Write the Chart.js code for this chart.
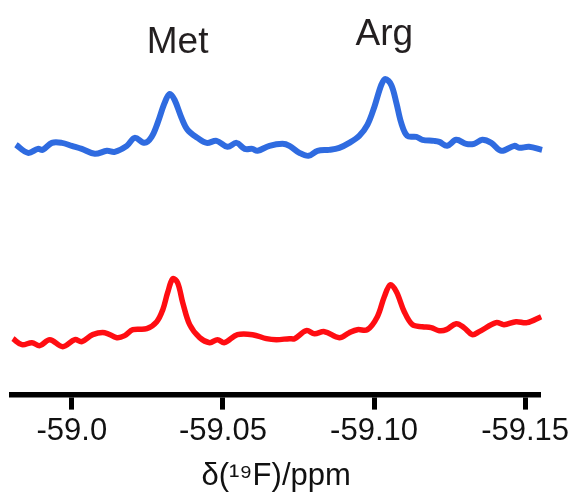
<!DOCTYPE html>
<html lang="en">
  <head>
    <meta charset="UTF-8" />
    <title>19F NMR</title>
    <script src="https://cdn.jsdelivr.net/npm/chart.js@4.4.1/dist/chart.umd.min.js"></script>
    <style>
      body { margin: 0; background: #fff; }
      #wrap { width: 573px; height: 496px; position: relative; }
    </style>
  </head>
  <body>
    <div id="wrap">
      <canvas id="chart-nmr"></canvas>
    </div>

<script>
  // chemical shift (ppm) and intensity (arbitrary units)
  const blueShift = [
    -58.9815, -58.9855, -58.9888, -58.9904, -58.9934, -58.9967, -59.0000, -59.0033,
    -59.0076, -59.0116, -59.0142, -59.0182, -59.0208, -59.0241, -59.0264, -59.0284,
    -59.0307, -59.0324, -59.0340, -59.0363, -59.0383, -59.0416, -59.0446, -59.0479,
    -59.0515, -59.0545, -59.0572, -59.0598, -59.0614, -59.0654, -59.0697, -59.0720,
    -59.0753, -59.0783, -59.0813, -59.0852, -59.0885, -59.0918, -59.0951, -59.0978,
    -59.1001, -59.1024, -59.1037, -59.1057, -59.1074, -59.1090, -59.1110, -59.1140,
    -59.1160, -59.1199, -59.1216, -59.1242, -59.1272, -59.1305, -59.1331, -59.1358,
    -59.1388, -59.1421, -59.1464, -59.1480, -59.1513, -59.1556
  ];
  const blueInt = [
    250, 242, 246, 245, 252, 252, 249, 246,
    241, 244, 243, 249, 257, 252, 258, 272,
    292, 301, 295, 277, 265, 257, 252, 254,
    248, 252, 246, 246, 244, 249, 251, 249,
    242, 239, 244, 245, 247, 252, 259, 270,
    288, 310, 316, 310, 292, 272, 259, 258,
    255, 254, 253, 249, 255, 251, 251, 255,
    252, 244, 249, 247, 248, 245
  ];

  const redShift = [
    -58.9805, -58.9835, -58.9868, -58.9894, -58.9927, -58.9970, -59.0010, -59.0033,
    -59.0069, -59.0109, -59.0149, -59.0175, -59.0202, -59.0248, -59.0281, -59.0301,
    -59.0317, -59.0334, -59.0350, -59.0367, -59.0390, -59.0423, -59.0456, -59.0482,
    -59.0505, -59.0548, -59.0598, -59.0644, -59.0677, -59.0720, -59.0737, -59.0776,
    -59.0803, -59.0836, -59.0885, -59.0918, -59.0945, -59.0978, -59.1011, -59.1034,
    -59.1054, -59.1074, -59.1100, -59.1127, -59.1160, -59.1189, -59.1216, -59.1239,
    -59.1272, -59.1298, -59.1325, -59.1348, -59.1404, -59.1430, -59.1470, -59.1506,
    -59.1553
  ];
  const redInt = [
    56, 50, 52, 49, 55, 48, 55, 53,
    60, 62, 57, 59, 65, 66, 73, 85,
    102, 116, 112, 92, 70, 57, 52, 55,
    52, 60, 60, 56, 55, 56, 56, 64,
    61, 63, 57, 62, 65, 65, 78, 98,
    110, 103, 83, 70, 68, 67, 64, 65,
    71, 67, 60, 63, 72, 70, 73, 72,
    78
  ];

  const tickVals = [-59.0, -59.05, -59.1, -59.15];
  const tickLabels = ["-59.0", "-59.05", "-59.10", "-59.15"];

  const peakNames = ["Met", "Arg"];
  const peakShift = [-59.035, -59.1034];

  function toPoints(xs, ys) {
    return xs.map((x, i) => ({ x: x, y: ys[i] }));
  }

  // draws the residue names above the peaks
  const peakLabelPlugin = {
    id: "peakLabels",
    afterDraw(chart, args, opts) {
      const ctx = chart.ctx;
      const xs = chart.scales.x;
      ctx.save();
      ctx.font = "37px 'Liberation Sans', Arial, sans-serif";
      ctx.fillStyle = "#231f20";
      ctx.textAlign = "center";
      ctx.textBaseline = "alphabetic";
      peakNames.forEach((name, i) => {
        ctx.fillText(name, xs.getPixelForValue(peakShift[i]), opts.baselines[i]);
      });
      ctx.restore();
    },
  };

  const canvas = document.getElementById("chart-nmr");
  const ctx = canvas.getContext("2d");

  const chart = new Chart(ctx, {
    type: "line",
    data: {
      datasets: [
        {
          label: "blue",
          data: toPoints(blueShift, blueInt),
          borderColor: "#2f6be0",
          borderWidth: 6,
          pointRadius: 0,
          tension: 0.35,
          fill: false,
          clip: false,
        },
        {
          label: "red",
          data: toPoints(redShift, redInt),
          borderColor: "#ff0d12",
          borderWidth: 5.5,
          pointRadius: 0,
          tension: 0.35,
          fill: false,
          clip: false,
        },
      ],
    },
    options: {
      animation: false,
      responsive: true,
      maintainAspectRatio: false,
      layout: { padding: { left: 12, right: 32, top: 0, bottom: 0 } },
      plugins: {
        legend: { display: false },
        tooltip: { enabled: false },
        peakLabels: { baselines: [53, 45] },
      },
      scales: {
        x: {
          type: "linear",
          reverse: true,
          min: -59.155,
          max: -58.9802,
          afterBuildTicks: (scale) => {
            scale.ticks = tickVals.map((v) => ({ value: v }));
          },
          border: { display: true, color: "#000", width: 5.5 },
          grid: {
            drawOnChartArea: false,
            drawTicks: true,
            tickLength: 15,
            tickWidth: 5,
            tickColor: "#000",
          },
          ticks: {
            autoSkip: false,
            maxRotation: 0,
            padding: 3,
            color: "#111",
            font: { family: "'Liberation Sans', Arial, sans-serif", size: 31 },
            callback: (value, index) => tickLabels[index],
          },
          title: {
            display: true,
            text: "δ(¹⁹F)/ppm",
            color: "#111",
            font: { family: "'Liberation Sans', Arial, sans-serif", size: 31 },
            padding: { top: 5, bottom: 1 },
          },
        },
        y: {
          display: false,
          min: 0,
          max: 395,
        },
      },
    },
    plugins: [peakLabelPlugin],
  });
</script>
  </body>
</html>
